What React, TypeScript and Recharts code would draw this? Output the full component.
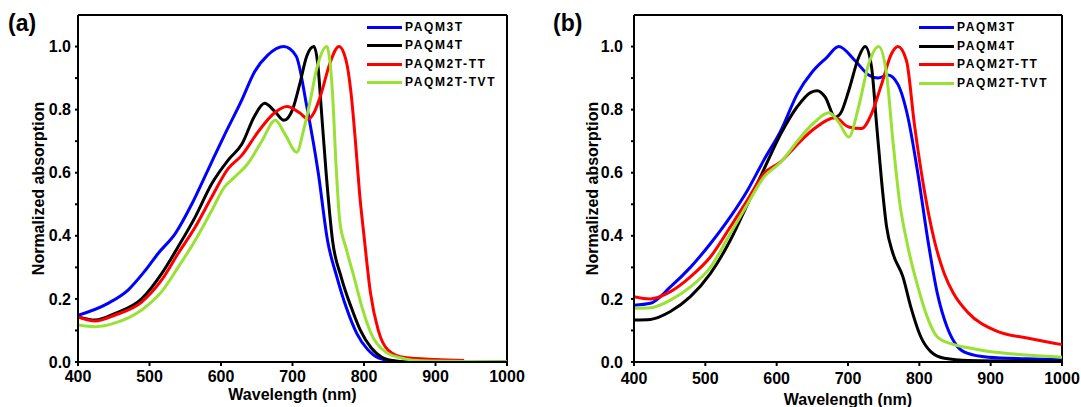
import React from "react";
import { LineChart, Line, XAxis, YAxis, ReferenceLine } from "recharts";

const FONT = '"Liberation Sans", Arial, sans-serif';

const seriesNames = ["PAQM3T", "PAQM4T", "PAQM2T-TT", "PAQM2T-TVT"];
const seriesColors = ["#0000ff", "#000000", "#ff0000", "#99e134"];
const xTicks = [400, 500, 600, 700, 800, 900, 1000];
const yTicks = [0, 0.1, 0.2, 0.3, 0.4, 0.5, 0.6, 0.7, 0.8, 0.9, 1.0];

// panel (a)
const aM3tNm = [400, 442, 470, 494, 512, 536, 559, 582, 605, 629, 647, 665, 688, 705, 720, 736, 749, 762, 775, 790, 805, 820, 840, 855, 1000];
const aM3tAbs = [0.148, 0.186, 0.228, 0.29, 0.344, 0.407, 0.5, 0.61, 0.72, 0.83, 0.92, 0.972, 1.0, 0.97, 0.81, 0.6, 0.385, 0.27, 0.174, 0.09, 0.04, 0.013, 0.003, 0.0, 0.0];

const aM4tNm = [400, 424, 452, 489, 517, 540, 564, 587, 610, 629, 647, 661, 675, 688, 700, 710, 720, 730, 736, 740, 747, 756, 768, 782, 795, 810, 825, 845, 860, 1000];
const aM4tAbs = [0.143, 0.133, 0.154, 0.2, 0.28, 0.365, 0.46, 0.565, 0.64, 0.69, 0.78, 0.82, 0.795, 0.766, 0.8, 0.88, 0.97, 1.0, 0.93, 0.81, 0.6, 0.385, 0.27, 0.174, 0.1, 0.045, 0.015, 0.003, 0.0, 0.0];

const aTtNm = [400, 424, 452, 489, 517, 540, 564, 587, 610, 629, 652, 675, 692, 710, 722, 730, 740, 752, 765, 775, 782, 788, 794, 800, 809, 820, 834, 857, 900, 940];
const aTtAbs = [0.143, 0.13, 0.149, 0.19, 0.26, 0.344, 0.428, 0.523, 0.613, 0.655, 0.73, 0.79, 0.81, 0.79, 0.77, 0.79, 0.85, 0.945, 1.0, 0.955, 0.85, 0.7, 0.53, 0.4, 0.22, 0.1, 0.037, 0.014, 0.008, 0.005];

const aTvtNm = [400, 424, 452, 489, 517, 540, 564, 587, 605, 619, 638, 657, 676, 690, 706, 715, 724, 735, 748, 752, 756, 761, 766, 775, 786, 797, 810, 830, 857, 880, 1000];
const aTvtAbs = [0.117, 0.112, 0.124, 0.165, 0.223, 0.3, 0.386, 0.48, 0.555, 0.586, 0.63, 0.7, 0.766, 0.72, 0.665, 0.73, 0.82, 0.94, 1.0, 0.96, 0.85, 0.62, 0.45, 0.36, 0.27, 0.175, 0.09, 0.032, 0.01, 0.004, 0.001];

// panel (b)
const bM3tNm = [400, 423, 451, 479, 507, 535, 559, 582, 606, 629, 650, 670, 687, 710, 729, 742, 756, 770, 784, 798, 812, 825, 839, 853, 867, 897, 950, 1000];
const bM3tAbs = [0.18, 0.186, 0.238, 0.3, 0.375, 0.46, 0.544, 0.64, 0.734, 0.85, 0.92, 0.965, 1.0, 0.955, 0.91, 0.9, 0.91, 0.88, 0.776, 0.597, 0.386, 0.22, 0.11, 0.05, 0.028, 0.015, 0.01, 0.007];

const bM4tNm = [400, 423, 451, 479, 507, 535, 559, 582, 606, 629, 648, 657, 668, 682, 690, 701, 715, 724, 733, 740, 747, 754, 763, 777, 788, 802, 816, 835, 869, 1000];
const bM4tAbs = [0.133, 0.135, 0.16, 0.207, 0.28, 0.386, 0.5, 0.61, 0.724, 0.81, 0.855, 0.86, 0.84, 0.776, 0.79, 0.86, 0.966, 1.0, 0.935, 0.755, 0.576, 0.43, 0.344, 0.27, 0.175, 0.08, 0.033, 0.012, 0.005, 0.002];

const bTtNm = [400, 423, 451, 479, 507, 535, 559, 582, 606, 629, 653, 682, 701, 719, 733, 747, 761, 770, 782, 793, 807, 821, 835, 848, 869, 906, 953, 1000];
const bTtAbs = [0.207, 0.2, 0.223, 0.27, 0.333, 0.428, 0.513, 0.597, 0.635, 0.69, 0.74, 0.774, 0.745, 0.74, 0.787, 0.88, 0.977, 1.0, 0.955, 0.755, 0.544, 0.386, 0.28, 0.217, 0.155, 0.1, 0.075, 0.055];

const bTvtNm = [400, 423, 451, 479, 507, 535, 559, 582, 606, 629, 653, 673, 687, 701, 715, 729, 743, 754, 763, 772, 784, 798, 811, 825, 844, 869, 891, 950, 1000];
const bTvtAbs = [0.17, 0.172, 0.196, 0.238, 0.3, 0.407, 0.5, 0.586, 0.634, 0.7, 0.76, 0.79, 0.76, 0.713, 0.81, 0.945, 1.0, 0.913, 0.7, 0.513, 0.365, 0.238, 0.143, 0.08, 0.058, 0.045, 0.036, 0.022, 0.015];

const toPoints = (nm: number[], abs: number[]) => nm.map((x, i) => ({ x, y: abs[i] }));

const panelA = [
  toPoints(aM3tNm, aM3tAbs),
  toPoints(aM4tNm, aM4tAbs),
  toPoints(aTtNm, aTtAbs),
  toPoints(aTvtNm, aTvtAbs),
];
const panelB = [
  toPoints(bM3tNm, bM3tAbs),
  toPoints(bM4tNm, bM4tAbs),
  toPoints(bTtNm, bTtAbs),
  toPoints(bTvtNm, bTvtAbs),
];

type PanelProps = {
  tag: string;
  tagLeft: number;
  series: { x: number; y: number }[][];
  left: number;
  width: number;
  yAxisWidth: number;
  right: number;
  yTickMargin: number;
  xTickMargin: number;
  yLabelOffset: number;
  xLabelOffset: number;
  legendLeft: number;
  legendRows: number[];
};

function Panel(p: PanelProps) {
  const tickStyle = { fill: "#000", fontSize: 16, fontWeight: "bold", fontFamily: FONT };
  const labelStyle = { fill: "#000", fontSize: 16, fontWeight: "bold", fontFamily: FONT };
  return (
    <div style={{ position: "absolute", left: p.left, top: 0, width: p.width, height: 407 }}>
      <LineChart
        width={p.width}
        height={407}
        margin={{ top: 15, right: p.right, bottom: 0, left: 0 }}
      >
        <XAxis
          type="number"
          dataKey="x"
          domain={[400, 1000]}
          ticks={xTicks}
          allowDataOverflow
          height={45}
          tick={tickStyle}
          tickSize={4}
          tickMargin={p.xTickMargin}
          axisLine={{ stroke: "#000", strokeWidth: 2 }}
          tickLine={{ stroke: "#000", strokeWidth: 2 }}
          label={{
            value: "Wavelength (nm)",
            position: "insideBottom",
            offset: p.xLabelOffset,
            style: labelStyle,
          }}
        />
        <YAxis
          type="number"
          domain={[0, 1.1]}
          ticks={yTicks}
          allowDataOverflow
          width={p.yAxisWidth}
          tick={tickStyle}
          tickSize={3}
          tickMargin={p.yTickMargin}
          tickFormatter={(v: number) => (Math.round(v * 10) % 2 === 0 ? v.toFixed(1) : "")}
          axisLine={{ stroke: "#000", strokeWidth: 2 }}
          tickLine={{ stroke: "#000", strokeWidth: 2 }}
          label={{
            value: "Normalized absorption",
            angle: -90,
            position: "insideLeft",
            offset: p.yLabelOffset,
            style: { ...labelStyle, textAnchor: "middle" },
          }}
        />
        <ReferenceLine y={1.1} stroke="#000" strokeWidth={2} />
        <ReferenceLine x={1000} stroke="#000" strokeWidth={2} />
        {p.series.map((d, i) => (
          <Line
            key={seriesNames[i]}
            data={d}
            dataKey="y"
            name={seriesNames[i]}
            type="monotone"
            stroke={seriesColors[i]}
            strokeWidth={3}
            dot={false}
            activeDot={false}
            isAnimationActive={false}
          />
        ))}
      </LineChart>
      <div
        style={{
          position: "absolute",
          left: p.tagLeft,
          top: 10,
          fontFamily: FONT,
          fontWeight: "bold",
          fontSize: 23,
          color: "#000",
        }}
      >
        {p.tag}
      </div>
      {seriesNames.map((n, i) => (
        <div
          key={n}
          style={{
            position: "absolute",
            left: p.legendLeft,
            top: p.legendRows[i] - 9,
            height: 18,
            display: "flex",
            alignItems: "center",
            fontFamily: FONT,
            fontWeight: "bold",
            fontSize: 12,
            letterSpacing: 1.6,
            whiteSpace: "nowrap",
            color: "#000",
          }}
        >
          <span style={{ display: "inline-block", width: 35, height: 3, background: seriesColors[i] }} />
          <span style={{ marginLeft: 3 }}>{n}</span>
        </div>
      ))}
    </div>
  );
}

export default function App() {
  return (
    <div style={{ position: "absolute", left: 0, top: 0, width: 1081, height: 407, background: "#fff", overflow: "hidden" }}>
      <Panel
        tag="(a)"
        tagLeft={8}
        series={panelA}
        left={0}
        width={540}
        yAxisWidth={78}
        right={33}
        yTickMargin={4}
        xTickMargin={5}
        yLabelOffset={38}
        xLabelOffset={7}
        legendLeft={367}
        legendRows={[27, 45, 64, 82]}
      />
      <Panel
        tag="(b)"
        tagLeft={13}
        series={panelB}
        left={540}
        width={541}
        yAxisWidth={94}
        right={19}
        yTickMargin={8}
        xTickMargin={7}
        yLabelOffset={52}
        xLabelOffset={2}
        legendLeft={379}
        legendRows={[27, 46, 64, 83]}
      />
    </div>
  );
}
